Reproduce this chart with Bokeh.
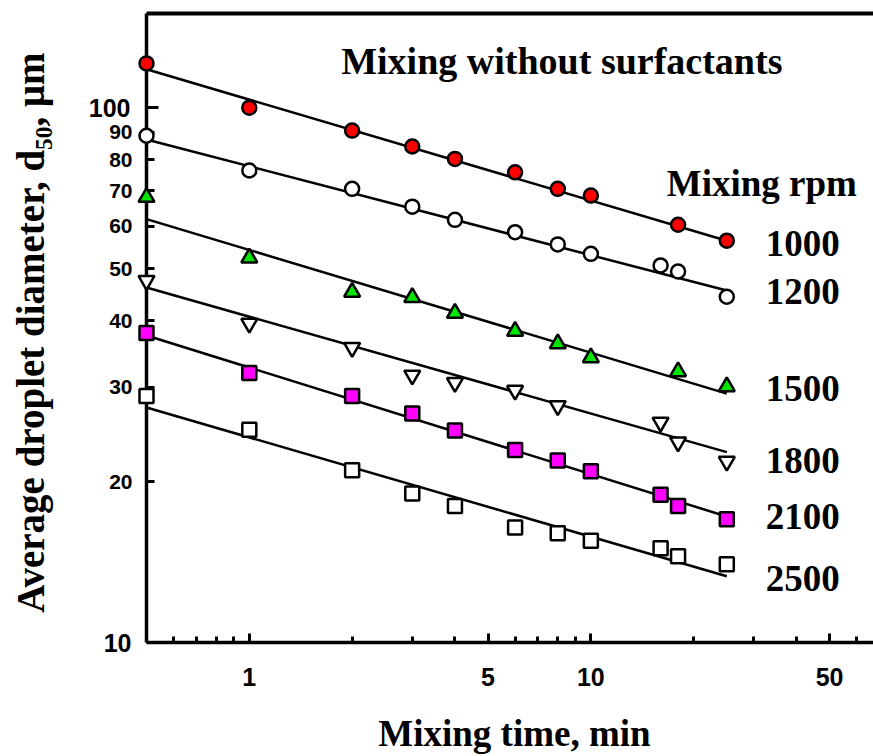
import math
from bokeh.plotting import figure
from bokeh.models import Range1d, LogAxis, FixedTicker, Label, BasicTickFormatter
from bokeh.core.properties import value
from bokeh.embed import file_html
from bokeh.resources import INLINE

# ---------------- data ----------------
rpm_labels = ["1000", "1200", "1500", "1800", "2100", "2500"]

x_1000 = [0.5, 1, 2, 3, 4, 6, 8, 10, 18, 25]
y_1000 = [121, 100, 90.6, 84.6, 80.2, 75.7, 70.5, 68.5, 60.4, 56.4]

x_1200 = [0.5, 1, 2, 3, 4, 6, 8, 10, 16, 18, 25]
y_1200 = [88.6, 76.3, 70.5, 65.3, 61.7, 58.5, 55.5, 53.3, 50.7, 49.4, 44.3]

x_1500 = [0.5, 1, 2, 3, 4, 6, 8, 10, 18, 25]
y_1500 = [68.0, 52.4, 45.2, 44.2, 41.3, 38.2, 36.2, 34.1, 32.1, 30.1]

x_1800 = [0.5, 1, 2, 3, 4, 6, 8, 16, 18, 25]
y_1800 = [47.5, 39.5, 35.6, 31.6, 30.6, 29.6, 27.7, 25.8, 23.7, 21.8]

x_2100 = [0.5, 1, 2, 3, 4, 6, 8, 10, 16, 18, 25]
y_2100 = [37.9, 31.9, 28.9, 26.8, 24.9, 22.9, 21.9, 20.9, 18.9, 18.0, 17.0]

x_2500 = [0.5, 1, 2, 3, 4, 6, 8, 10, 16, 18, 25]
y_2500 = [28.9, 25.0, 21.0, 19.0, 18.0, 16.4, 16.0, 15.5, 15.0, 14.5, 14.0]

# power-law fit lines: value at start and end of the fitted time span
fit_x = [0.5, 25]
fit_start = [118.0, 87.2, 61.9, 46.1, 37.5, 27.5]
fit_end = [56.4, 45.5, 29.2, 22.7, 17.2, 13.3]

x_ticks = [1, 5, 10, 50]
x_tick_labels = ["1", "5", "10", "50"]
x_minor = [0.6, 0.7, 0.8, 0.9, 2, 3, 4, 6, 7, 8, 9, 20, 30, 40, 60]
y_ticks = [20, 30, 40, 50, 60, 70, 80, 90]
y_tick_labels = ["20", "30", "40", "50", "60", "70", "80", "90"]
y_big_ticks = [10, 100]
y_big_labels = ["10", "100"]

# ---------------- styling ----------------
series_x = [x_1000, x_1200, x_1500, x_1800, x_2100, x_2500]
series_y = [y_1000, y_1200, y_1500, y_1800, y_2100, y_2500]
markers = ["circle", "circle", "triangle", "inverted_triangle", "square", "square"]
fills = ["#ff0000", "#ffffff", "#00e600", "#ffffff", "#ff00ff", "#ffffff"]
sizes = [14, 14, 16, 16, 14, 14]

SERIF = "Liberation Serif"
SANS = "Liberation Sans"
SHIFT = 12  # renderer places 'alphabetic' anchors ~1/3 em above the drawn baseline


# picture pixel -> data coordinate helpers (for text placement)
def dx(px):
    return 10 ** ((px - 248) / 342.0)


def dy(py):
    return 10 * 10 ** ((642 - py) / 535.0)


p = figure(width=873, height=756, x_axis_type="log", y_axis_type="log",
           x_range=Range1d(0.5, dx(873)), y_range=Range1d(10, 150),
           output_backend="svg", toolbar_location=None,
           min_border_left=146, min_border_right=0,
           min_border_top=13, min_border_bottom=114)
p.outline_line_color = None
p.grid.visible = False
p.background_fill_color = "white"
p.border_fill_color = "white"

# x axis
xa = p.xaxis[0]
xa.ticker = FixedTicker(ticks=x_ticks, minor_ticks=x_minor)
xa.formatter = BasicTickFormatter()
xa.major_label_overrides = {t: l for t, l in zip(x_ticks, x_tick_labels)}
xa.axis_line_width = 3.5
xa.major_tick_in = 9
xa.major_tick_out = 0
xa.minor_tick_in = 6
xa.minor_tick_out = 0
xa.major_tick_line_width = 3
xa.minor_tick_line_width = 3
xa.major_label_standoff = 25
xa.major_label_text_font = SANS
xa.major_label_text_font_style = "bold"
xa.major_label_text_font_size = "25px"
xa.major_label_text_color = "black"

# y axis
ya = p.yaxis[0]
ya.ticker = FixedTicker(ticks=y_ticks, minor_ticks=y_big_ticks)
ya.formatter = BasicTickFormatter()
ya.major_label_overrides = {t: l for t, l in zip(y_ticks, y_tick_labels)}
ya.axis_line_width = 3.5
ya.major_tick_in = 8
ya.major_tick_out = 0
ya.minor_tick_in = 12
ya.minor_tick_out = 0
ya.major_tick_line_width = 3
ya.minor_tick_line_width = 3
ya.major_label_standoff = 14
ya.major_label_text_font = SANS
ya.major_label_text_font_style = "bold"
ya.major_label_text_font_size = "21px"
ya.major_label_text_color = "black"

# top border line
top = LogAxis(ticker=FixedTicker(ticks=[1]), axis_line_width=4,
              major_tick_line_color=None, minor_tick_line_color=None,
              major_label_text_alpha=0, major_label_text_font_size="8px",
              major_label_standoff=0)
p.add_layout(top, "above")

# fit lines and points
for i in range(len(rpm_labels)):
    p.line(fit_x, [fit_start[i], fit_end[i]], line_color="black", line_width=2.5)
for i in range(len(rpm_labels)):
    p.scatter(series_x[i], series_y[i], marker=markers[i], size=sizes[i],
              fill_color=fills[i], line_color="black", line_width=2.5,
              level="overlay")

# larger decade labels on the y axis (outside the frame -> overlay text glyphs)
p.text(x=[dx(129), dx(130)], y=[y_big_ticks[1], y_big_ticks[0]],
       text=[y_big_labels[1], y_big_labels[0]],
       text_align="right", text_baseline="middle",
       text_font=value(SANS), text_font_style="bold", text_font_size="25px",
       text_color="black", level="overlay")

# axis titles
p.text(x=[dx(513.5)], y=[dy(745 - SHIFT)], text=["Mixing time, min"],
       text_align="center", text_baseline="alphabetic",
       text_font=value(SERIF), text_font_style="bold", text_font_size="37px",
       text_color="black", level="overlay")
p.text(x=[dx(42 - 13)], y=[dy(332)], text=["Average droplet diameter, d\u2085\u2080, \u03bcm"],
       angle=math.pi / 2, text_align="center", text_baseline="alphabetic",
       text_font=value(SERIF), text_font_style="bold", text_font_size="39px",
       text_color="black", level="overlay")

# annotations inside the frame
p.add_layout(Label(x=dx(340), y=dy(72 - SHIFT), text="Mixing  without surfactants",
                   text_font=SERIF, text_font_style="bold", text_font_size="38px",
                   text_color="black", text_align="left", text_baseline="alphabetic"))
p.add_layout(Label(x=dx(666), y=dy(195 - SHIFT), text="Mixing rpm",
                   text_font=SERIF, text_font_style="bold", text_font_size="37px",
                   text_color="black", text_align="left", text_baseline="alphabetic"))
rpm_baselines = [255, 303, 400, 471.7, 527.7, 590]
for t, b in zip(rpm_labels, rpm_baselines):
    p.add_layout(Label(x=dx(765), y=dy(b - SHIFT), text=t,
                       text_font=SERIF, text_font_style="bold", text_font_size="37px",
                       text_color="black", text_align="left", text_baseline="alphabetic"))

open("out.html", "w").write(file_html(p, INLINE))
